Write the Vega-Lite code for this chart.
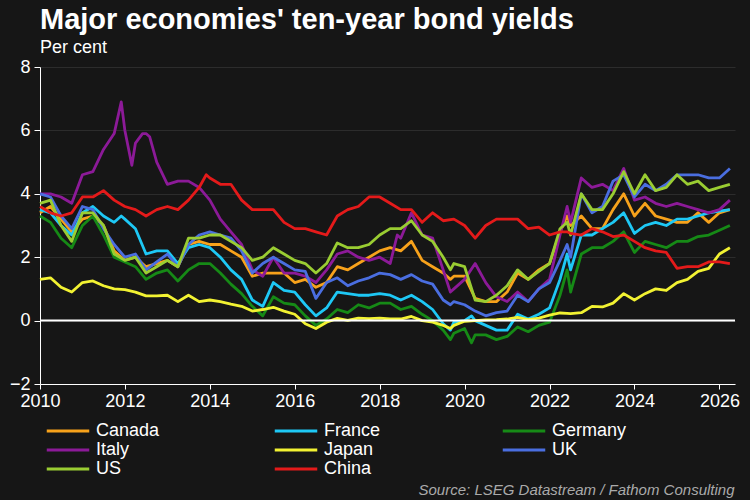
{
"$schema": "https://vega.github.io/schema/vega-lite/v6.json",
"width": 695,
"height": 317,
"autosize": {"type": "none"},
"padding": {"left": 40, "top": 67, "right": 15, "bottom": 116},
"background": "#161616",
"title": {"text": "Major economies' ten-year bond yields", "subtitle": "Per cent", "anchor": "start", "frame": "group", "font": "Liberation Sans", "fontSize": 29, "fontWeight": "bold", "color": "#ffffff", "subtitleFont": "Liberation Sans", "subtitleFontSize": 18, "subtitleColor": "#ffffff", "subtitlePadding": 4, "offset": 1},
"config": {"view": {"stroke": null}},
"layer": [
{
"data": {"values": [
{"d":"2010-01-01","Canada":3.4,"France":3.5,"Germany":3.3,"Italy":4.0,"Japan":1.3,"UK":4.0,"US":3.7,"China":3.6},
{"d":"2010-04-01","Canada":3.6,"France":3.4,"Germany":3.1,"Italy":4.0,"Japan":1.35,"UK":3.9,"US":3.8,"China":3.4},
{"d":"2010-07-01","Canada":3.2,"France":3.0,"Germany":2.6,"Italy":3.9,"Japan":1.05,"UK":3.3,"US":3.0,"China":3.3},
{"d":"2010-10-01","Canada":2.8,"France":2.7,"Germany":2.3,"Italy":3.7,"Japan":0.9,"UK":2.9,"US":2.5,"China":3.4},
{"d":"2011-01-01","Canada":3.2,"France":3.4,"Germany":3.0,"Italy":4.6,"Japan":1.2,"UK":3.6,"US":3.4,"China":3.9},
{"d":"2011-04-01","Canada":3.3,"France":3.6,"Germany":3.3,"Italy":4.7,"Japan":1.25,"UK":3.5,"US":3.4,"China":3.9},
{"d":"2011-07-01","Canada":3.0,"France":3.3,"Germany":2.7,"Italy":5.4,"Japan":1.1,"UK":2.9,"US":3.0,"China":4.1},
{"d":"2011-10-01","Canada":2.2,"France":3.1,"Germany":2.0,"Italy":5.9,"Japan":1.0,"UK":2.4,"US":2.1,"China":3.8},
{"d":"2011-12-01","France":3.3,"Italy":6.9},
{"d":"2012-01-01","Canada":1.9,"France":3.2,"Germany":1.85,"Italy":6.0,"Japan":0.98,"UK":2.0,"US":1.9,"China":3.6},
{"d":"2012-03-01","Italy":4.9},
{"d":"2012-04-01","Canada":2.0,"France":2.9,"Germany":1.7,"Italy":5.6,"Japan":0.9,"UK":2.1,"US":2.0,"China":3.5},
{"d":"2012-06-01","Italy":5.9},
{"d":"2012-07-01","Canada":1.7,"France":2.1,"Germany":1.3,"Italy":5.9,"Japan":0.78,"UK":1.6,"US":1.5,"China":3.3},
{"d":"2012-08-01","Italy":5.8},
{"d":"2012-10-01","Canada":1.8,"France":2.2,"Germany":1.5,"Italy":5.0,"Japan":0.78,"UK":1.85,"US":1.7,"China":3.5},
{"d":"2013-01-01","Canada":1.9,"France":2.2,"Germany":1.6,"Italy":4.3,"Japan":0.8,"UK":2.1,"US":1.9,"China":3.6},
{"d":"2013-04-01","Canada":1.7,"France":1.8,"Germany":1.25,"Italy":4.4,"Japan":0.6,"UK":1.7,"US":1.7,"China":3.5},
{"d":"2013-07-01","Canada":2.4,"France":2.3,"Germany":1.6,"Italy":4.4,"Japan":0.8,"UK":2.4,"US":2.6,"China":3.8},
{"d":"2013-10-01","Canada":2.5,"France":2.4,"Germany":1.8,"Italy":4.2,"Japan":0.6,"UK":2.7,"US":2.6,"China":4.2},
{"d":"2013-12-01","China":4.6},
{"d":"2014-01-01","Canada":2.4,"France":2.3,"Germany":1.8,"Italy":3.8,"Japan":0.65,"UK":2.8,"US":2.7,"China":4.5},
{"d":"2014-04-01","Canada":2.4,"France":2.0,"Germany":1.5,"Italy":3.2,"Japan":0.6,"UK":2.7,"US":2.7,"China":4.3},
{"d":"2014-07-01","Canada":2.2,"France":1.6,"Germany":1.15,"Italy":2.8,"Japan":0.52,"UK":2.6,"US":2.5,"China":4.3},
{"d":"2014-10-01","Canada":2.0,"France":1.3,"Germany":0.85,"Italy":2.4,"Japan":0.45,"UK":2.2,"US":2.3,"China":3.8},
{"d":"2015-01-01","Canada":1.4,"France":0.65,"Germany":0.45,"Italy":1.6,"Japan":0.3,"UK":1.5,"US":1.9,"China":3.5},
{"d":"2015-04-01","Canada":1.5,"France":0.45,"Germany":0.15,"Italy":1.4,"Japan":0.35,"UK":1.8,"US":2.0,"China":3.5},
{"d":"2015-07-01","Canada":1.5,"France":1.2,"Germany":0.75,"Italy":2.0,"Japan":0.42,"UK":2.0,"US":2.3,"China":3.5},
{"d":"2015-10-01","Canada":1.5,"France":0.95,"Germany":0.55,"Italy":1.5,"Japan":0.3,"UK":1.8,"US":2.1,"China":3.1},
{"d":"2016-01-01","Canada":1.2,"France":0.9,"Germany":0.5,"Italy":1.5,"Japan":0.2,"UK":1.6,"US":1.9,"China":2.9},
{"d":"2016-04-01","Canada":1.3,"France":0.5,"Germany":0.15,"Italy":1.4,"Japan":-0.1,"UK":1.55,"US":1.8,"China":2.9},
{"d":"2016-07-01","Canada":1.05,"France":0.15,"Germany":-0.15,"Italy":1.2,"Japan":-0.25,"UK":0.7,"US":1.5,"China":2.8},
{"d":"2016-10-01","Canada":1.2,"France":0.4,"Germany":0.05,"Italy":1.6,"Japan":-0.05,"UK":1.2,"US":1.8,"China":2.7},
{"d":"2017-01-01","Canada":1.7,"France":0.9,"Germany":0.35,"Italy":2.1,"Japan":0.07,"UK":1.35,"US":2.45,"China":3.3},
{"d":"2017-04-01","Canada":1.6,"France":0.85,"Germany":0.25,"Italy":2.2,"Japan":0.01,"UK":1.1,"US":2.3,"China":3.5},
{"d":"2017-07-01","Canada":1.8,"France":0.8,"Germany":0.5,"Italy":2.0,"Japan":0.08,"UK":1.25,"US":2.3,"China":3.6},
{"d":"2017-10-01","Canada":2.0,"France":0.8,"Germany":0.4,"Italy":1.9,"Japan":0.06,"UK":1.35,"US":2.4,"China":3.9},
{"d":"2018-01-01","Canada":2.2,"France":0.85,"Germany":0.55,"Italy":2.0,"Japan":0.08,"UK":1.5,"US":2.7,"China":3.9},
{"d":"2018-04-01","Canada":2.3,"France":0.8,"Germany":0.55,"Italy":1.8,"Japan":0.05,"UK":1.45,"US":2.9,"China":3.7},
{"d":"2018-06-01","Italy":2.7},
{"d":"2018-07-01","Canada":2.2,"France":0.65,"Germany":0.35,"Italy":2.6,"Japan":0.05,"UK":1.3,"US":2.9,"China":3.5},
{"d":"2018-10-01","Canada":2.5,"France":0.8,"Germany":0.45,"Italy":3.4,"Japan":0.13,"UK":1.45,"US":3.15,"China":3.5},
{"d":"2019-01-01","Canada":1.9,"France":0.6,"Germany":0.2,"Italy":2.7,"Japan":0.0,"UK":1.25,"US":2.7,"China":3.1},
{"d":"2019-04-01","Canada":1.7,"France":0.35,"Germany":0.0,"Italy":2.6,"Japan":-0.05,"UK":1.15,"US":2.5,"China":3.4},
{"d":"2019-07-01","Canada":1.5,"France":-0.1,"Germany":-0.3,"Italy":1.6,"Japan":-0.15,"UK":0.65,"US":2.0,"China":3.15},
{"d":"2019-09-01","Canada":1.3,"France":-0.3,"Germany":-0.6,"Italy":0.9,"Japan":-0.25,"UK":0.5,"US":1.6},
{"d":"2019-10-01","Canada":1.4,"France":-0.05,"Germany":-0.4,"Italy":1.0,"Japan":-0.15,"UK":0.6,"US":1.8,"China":3.2},
{"d":"2020-01-01","Canada":1.4,"France":0.0,"Germany":-0.25,"Italy":1.3,"Japan":-0.02,"UK":0.5,"US":1.7,"China":3.0},
{"d":"2020-03-01","France":0.15,"Germany":-0.7},
{"d":"2020-04-01","Canada":0.7,"France":0.0,"Germany":-0.45,"Italy":1.8,"Japan":0.0,"UK":0.3,"US":0.65,"China":2.6},
{"d":"2020-07-01","Canada":0.6,"France":-0.15,"Germany":-0.45,"Italy":1.2,"Japan":0.02,"UK":0.15,"US":0.6,"China":3.0},
{"d":"2020-10-01","Canada":0.6,"France":-0.3,"Germany":-0.6,"Italy":0.75,"Japan":0.03,"UK":0.25,"US":0.8,"China":3.2},
{"d":"2021-01-01","Canada":0.9,"France":-0.3,"Germany":-0.5,"Italy":0.6,"Japan":0.05,"UK":0.3,"US":1.1,"China":3.2},
{"d":"2021-04-01","Canada":1.5,"France":0.2,"Germany":-0.2,"Italy":0.9,"Japan":0.1,"UK":0.8,"US":1.6,"China":3.2},
{"d":"2021-07-01","Canada":1.3,"France":0.05,"Germany":-0.35,"Italy":0.6,"Japan":0.03,"UK":0.6,"US":1.3,"China":2.9},
{"d":"2021-10-01","Canada":1.6,"France":0.2,"Germany":-0.15,"Italy":1.0,"Japan":0.08,"UK":1.0,"US":1.55,"China":2.95},
{"d":"2022-01-01","Canada":1.8,"France":0.4,"Germany":-0.05,"Italy":1.3,"Japan":0.17,"UK":1.2,"US":1.8,"China":2.7},
{"d":"2022-04-01","Canada":2.8,"France":1.3,"Germany":0.8,"Italy":2.7,"Japan":0.24,"UK":1.9,"US":2.9,"China":2.8},
{"d":"2022-06-01","Canada":3.3,"France":2.1,"Germany":1.6,"Italy":3.6,"Japan":0.23,"UK":2.4,"US":3.1,"China":2.8},
{"d":"2022-07-01","Canada":3.0,"France":1.6,"Germany":0.9,"Italy":3.1,"Japan":0.22,"UK":2.0,"US":2.7,"China":2.75},
{"d":"2022-10-01","Canada":3.3,"France":2.7,"Germany":2.1,"Italy":4.5,"Japan":0.25,"UK":4.0,"US":4.0,"China":2.7},
{"d":"2023-01-01","Canada":2.9,"France":2.7,"Germany":2.3,"Italy":4.2,"Japan":0.45,"UK":3.4,"US":3.5,"China":2.9},
{"d":"2023-04-01","Canada":2.9,"France":2.9,"Germany":2.3,"Italy":4.3,"Japan":0.43,"UK":3.6,"US":3.5,"China":2.8},
{"d":"2023-07-01","Canada":3.5,"France":3.1,"Germany":2.5,"Italy":4.1,"Japan":0.55,"UK":4.4,"US":4.0,"China":2.65},
{"d":"2023-10-01","Canada":4.0,"France":3.4,"Germany":2.8,"Italy":4.8,"Japan":0.85,"UK":4.6,"US":4.7,"China":2.7},
{"d":"2024-01-01","Canada":3.3,"France":2.75,"Germany":2.15,"Italy":3.8,"Japan":0.65,"UK":3.9,"US":4.0,"China":2.5},
{"d":"2024-04-01","Canada":3.7,"France":3.0,"Germany":2.5,"Italy":3.9,"Japan":0.85,"UK":4.3,"US":4.6,"China":2.3},
{"d":"2024-07-01","Canada":3.3,"France":3.1,"Germany":2.4,"Italy":3.7,"Japan":1.0,"UK":4.1,"US":4.1,"China":2.2},
{"d":"2024-10-01","Canada":3.2,"France":3.0,"Germany":2.3,"Italy":3.6,"Japan":0.95,"UK":4.3,"US":4.2,"China":2.15},
{"d":"2025-01-01","Canada":3.1,"France":3.2,"Germany":2.5,"Italy":3.7,"Japan":1.2,"UK":4.6,"US":4.6,"China":1.65},
{"d":"2025-04-01","Canada":3.1,"France":3.2,"Germany":2.5,"Italy":3.6,"Japan":1.3,"UK":4.6,"US":4.3,"China":1.7},
{"d":"2025-07-01","Canada":3.4,"France":3.3,"Germany":2.65,"Italy":3.5,"Japan":1.55,"UK":4.6,"US":4.4,"China":1.7},
{"d":"2025-10-01","Canada":3.1,"France":3.4,"Germany":2.7,"Italy":3.4,"Japan":1.65,"UK":4.5,"US":4.1,"China":1.85},
{"d":"2026-01-01","Canada":3.4,"France":3.45,"Germany":2.85,"Italy":3.5,"Japan":2.1,"UK":4.5,"US":4.2,"China":1.85},
{"d":"2026-04-01","Canada":3.5,"France":3.5,"Germany":3.0,"Italy":3.8,"Japan":2.3,"UK":4.8,"US":4.3,"China":1.8}
]},
"transform": [
{"fold": ["Canada","France","Germany","Italy","Japan","UK","US","China"], "as": ["c","v"]},
{"filter": {"field": "v", "valid": true}}
],
"mark": {"type": "line", "strokeWidth": 2.8, "strokeJoin": "round"},
"encoding": {
"x": {"field": "d", "type": "temporal",
"scale": {"domain": ["2010-01-01","2026-05-15"]},
"axis": {"format": "%Y", "tickCount": {"interval": "year", "step": 2}, "grid": false, "domainColor": "#ffffff", "tickColor": "#ffffff", "tickSize": 5, "labelColor": "#ffffff", "labelFont": "Liberation Sans", "labelFontSize": 18, "labelPadding": 3, "labelFlush": false,
"title": "Source: LSEG Datastream / Fathom Consulting", "titleAnchor": "end", "titleAlign": "right", "titleFont": "Liberation Sans", "titleFontStyle": "italic", "titleFontWeight": "normal", "titleFontSize": 15, "titleColor": "#aaaaaa", "titleBaseline": "alphabetic", "titleY": 110, "titleX": 694}},
"y": {"field": "v", "type": "quantitative",
"scale": {"domain": [-2, 8], "nice": false},
"axis": {"values": [-2,0,2,4,6,8], "title": null, "grid": true, "gridColor": "#2c2c2c", "gridWidth": 1, "domainColor": "#ffffff", "tickColor": "#ffffff", "tickSize": 6, "labelColor": "#ffffff", "labelFont": "Liberation Sans", "labelFontSize": 18, "labelPadding": 4}},
"color": {"field": "c", "type": "nominal",
"scale": {"domain": ["Canada","France","Germany","Italy","Japan","UK","US","China"], "range": ["#f7a21b","#1ec8f5","#168a16","#8c1a98","#f2f232","#4a6ee0","#9acd32","#e41a1a"]},
"legend": {"title": null, "orient": "none", "direction": "horizontal", "legendX": 18, "legendY": 354, "columns": 3, "symbolType": "M-2.5,0H2.5", "symbolSize": 289, "symbolStrokeWidth": 3, "labelFont": "Liberation Sans", "labelFontSize": 18, "labelColor": "#ffffff", "labelOffset": 18, "columnPadding": 97, "rowPadding": 0, "gridAlign": "all"}}
}
},
{
"data": {"values": [{"z": 0}]},
"mark": {"type": "rule", "color": "#ffffff", "strokeWidth": 2},
"encoding": {"y": {"field": "z", "type": "quantitative"}}
}
]
}
